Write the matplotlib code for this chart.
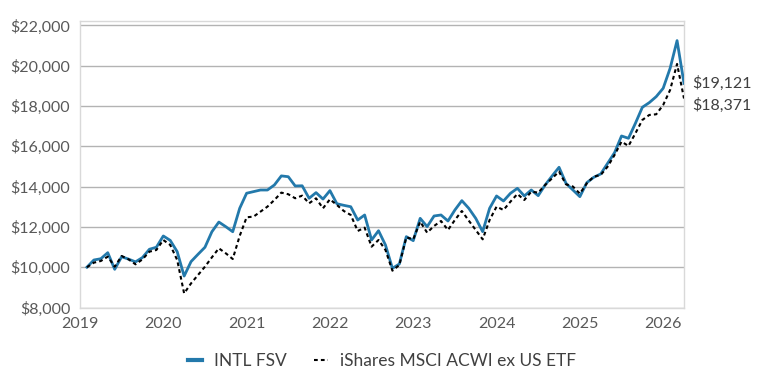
import matplotlib
matplotlib.use("Agg")
import matplotlib.pyplot as plt
import numpy as np
from matplotlib.ticker import FuncFormatter

plt.rcParams['font.family'] = ['Lato', 'DejaVu Sans']

# month-end values of a $10,000 investment, Jan 2019 .. Mar 2026
fund = [10000, 10357, 10420, 10720, 9895, 10520, 10400, 10265, 10480, 10890,
        10990, 11550, 11330, 10770, 9560, 10280, 10640, 10990, 11760, 12240,
        12010, 11760, 12920, 13670, 13750, 13830, 13830, 14080, 14530, 14490,
        14030, 14040, 13420, 13700, 13380, 13800, 13150, 13070, 13000, 12340,
        12590, 11350, 11810, 11100, 9944, 10160, 11515, 11317, 12425, 12012,
        12541, 12591, 12293, 12839, 13302, 12922, 12425, 11763, 12922, 13534,
        13285, 13666, 13914, 13534, 13831, 13550, 14080, 14526, 14957, 14163,
        13831, 13500, 14195, 14460, 14626, 15155, 15684, 16511, 16396, 17140,
        17934, 18166, 18464, 18878, 19870, 21243, 19121]
bench = [10000, 10225, 10308, 10523, 10026, 10556, 10390, 10142, 10390, 10771,
         10854, 11350, 11102, 10357, 8700, 9200, 9613, 10026, 10490, 10937,
         10690, 10407, 11550, 12476, 12510, 12757, 13005, 13335, 13700, 13620,
         13420, 13550, 13170, 13418, 12922, 13368, 13087, 12789, 12591, 11797,
         11962, 11019, 11350, 10854, 9828, 10109, 11482, 11383, 12260, 11714,
         12045, 12293, 11846, 12343, 12789, 12309, 11846, 11383, 12343, 13004,
         12839, 13252, 13633, 13335, 13749, 13699, 14080, 14411, 14741, 14113,
         14000, 13650, 14163, 14493, 14576, 14990, 15570, 16230, 16015, 16643,
         17306, 17554, 17587, 18050, 18795, 20085, 18371]
fund_name = 'INTL FSV'
bench_name = 'iShares MSCI ACWI ex US ETF'
years = [2019, 2020, 2021, 2022, 2023, 2024, 2025, 2026]

x = 2019 + (np.arange(len(fund)) + 1) / 12.0

fig = plt.figure(figsize=(7.64, 3.82), dpi=100)
ax = fig.add_axes([0.1047, 0.195, 0.7906, 0.7508])

ax.plot(x, fund, color='#2379ab', lw=2.0, label=fund_name, zorder=3)
ax.plot(x, bench, color='black', lw=1.5, ls=(0, (1.8, 1.5)), label=bench_name, zorder=4)

ax.set_xlim(2019, x[-1])
ax.set_ylim(8000, 22230)
ax.set_yticks(np.arange(8000, 22001, 2000))
ax.set_xticks(years)
ax.yaxis.set_major_formatter(FuncFormatter(lambda v, p: '${:,.0f}'.format(v)))
ax.grid(axis='y', color='#b3b3b3', lw=1)
ax.set_axisbelow(True)
ax.tick_params(length=0, labelsize=11.5, colors='#595959', pad=7)
for s in ax.spines.values():
    s.set_color('#d9d9d9')
    s.set_linewidth(1)

ax.annotate('${:,.0f}'.format(fund[-1]), (x[-1], fund[-1]), xytext=(6, 0),
            textcoords='offset points', va='center', fontsize=11.5, color='#404040',
            annotation_clip=False)
ax.annotate('${:,.0f}'.format(bench[-1]), (x[-1], bench[-1]), xytext=(6, -5),
            textcoords='offset points', va='center', fontsize=11.5, color='#404040',
            annotation_clip=False)

leg = fig.legend(loc='center', bbox_to_anchor=(0.5, 0.055), ncol=2, frameon=False,
                 fontsize=12.5, handlelength=0.8, handletextpad=0.7, columnspacing=1.6,
                 labelcolor='#404040')
leg.get_lines()[0].set_linewidth(3)

fig.savefig('out.png', dpi=100)
